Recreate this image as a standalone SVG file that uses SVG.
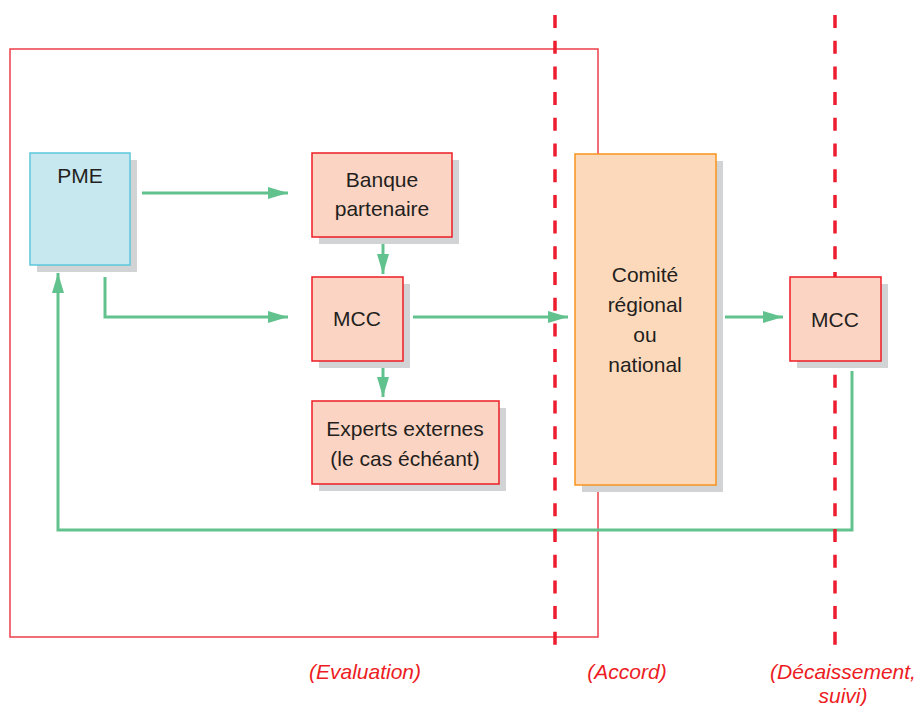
<svg xmlns="http://www.w3.org/2000/svg" width="917" height="706" viewBox="0 0 917 706">
<style>
.t{font-family:"Liberation Sans",Arial,sans-serif;font-size:21px;fill:#231f20;text-anchor:middle}
.lab{font-family:"Liberation Sans",Arial,sans-serif;font-size:21px;font-style:italic;fill:#ed1c24;text-anchor:middle}
.sh{fill:#d1d3d4}
.red{fill:#fcd4c3;stroke:#ed1c24;stroke-width:1.5}
.con{fill:none;stroke:#62c28e;stroke-width:3}
.dash{stroke:#ed1c2e;stroke-width:3.5;stroke-dasharray:13 12.7}
</style>
<defs>
<marker id="ah" markerWidth="20" markerHeight="12" refX="20" refY="6" orient="auto" markerUnits="userSpaceOnUse">
<path d="M0,0 L20,6 L0,12 Z" fill="#62c28e"/>
</marker>
</defs>
<rect x="10" y="49" width="588" height="588" fill="none" stroke="#ee3e4a" stroke-width="1.5"/>
<g id="connectors">
<line class="con" x1="142" y1="193" x2="288" y2="193" marker-end="url(#ah)"/>
<polyline class="con" points="105,277 105,317 288,317" marker-end="url(#ah)"/>
<line class="con" x1="383" y1="241" x2="383" y2="274" marker-end="url(#ah)"/>
<line class="con" x1="383" y1="364" x2="383" y2="397" marker-end="url(#ah)"/>
<line class="con" x1="413" y1="317" x2="568" y2="317" marker-end="url(#ah)"/>
<line class="con" x1="725" y1="317" x2="783" y2="317" marker-end="url(#ah)"/>
<polyline class="con" points="852,371 852,530 58,530 58,273" marker-end="url(#ah)"/>
</g>
<g id="dividers">
<line class="dash" x1="555" y1="15" x2="555" y2="645"/>
<line class="dash" x1="835" y1="15" x2="835" y2="645"/>
</g>
<g id="pme">
<rect class="sh" x="37" y="160" width="100" height="112"/>
<rect x="30" y="153" width="100" height="112" fill="#c8e8f0" stroke="#5bc8dc" stroke-width="1.5"/>
<text class="t" x="80" y="183">PME</text>
</g>
<g id="banque">
<rect class="sh" x="319" y="160" width="140" height="84"/>
<rect class="red" x="312" y="153" width="140" height="84"/>
<text class="t" x="382" y="187">Banque</text>
<text class="t" x="382" y="216">partenaire</text>
</g>
<g id="mcc1">
<rect class="sh" x="319" y="284" width="91" height="84"/>
<rect class="red" x="312" y="277" width="91" height="84"/>
<text class="t" x="357" y="326">MCC</text>
</g>
<g id="experts">
<rect class="sh" x="319" y="408" width="187" height="83"/>
<rect class="red" x="312" y="401" width="187" height="83"/>
<text class="t" x="405" y="436">Experts externes</text>
<text class="t" x="405" y="466">(le cas échéant)</text>
</g>
<g id="comite">
<rect class="sh" x="582" y="161" width="141" height="331"/>
<rect x="575" y="154" width="141" height="331" fill="#fdd9bb" stroke="#f7941d" stroke-width="1.5"/>
<text class="t" x="645" y="282">Comité</text>
<text class="t" x="645" y="312">régional</text>
<text class="t" x="645" y="342">ou</text>
<text class="t" x="645" y="372">national</text>
</g>
<g id="mcc2">
<rect class="sh" x="797" y="284" width="91" height="84"/>
<rect class="red" x="790" y="277" width="91" height="84"/>
<text class="t" x="835" y="327">MCC</text>
</g>
<g id="labels">
<text class="lab" x="365" y="679">(Evaluation)</text>
<text class="lab" x="627" y="679">(Accord)</text>
<text class="lab" x="843" y="679">(Décaissement,</text>
<text class="lab" x="843" y="703">suivi)</text>
</g>
</svg>
